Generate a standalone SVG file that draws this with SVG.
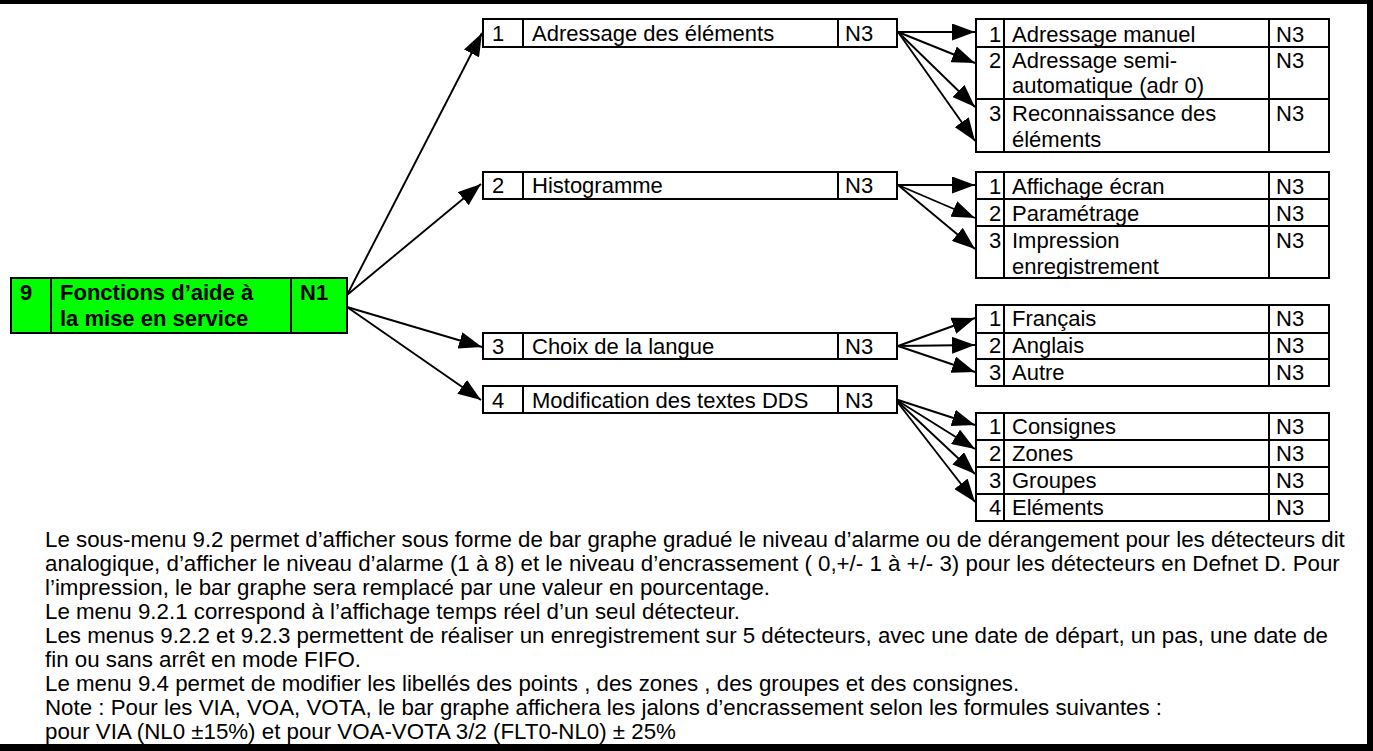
<svg xmlns="http://www.w3.org/2000/svg" width="1373" height="751" viewBox="0 0 1373 751">
<style>
.t{font-family:"Liberation Sans",Arial,sans-serif;font-size:22px;fill:#000}
.n{font-size:22.3px}
.b{font-weight:bold}
.bx{fill:#fff;stroke:#000;stroke-width:2}
.dv{stroke:#000;stroke-width:2}
.c{stroke:#000;stroke-width:1.9;fill:none;marker-end:url(#ah)}
.fr{fill:#000}
</style>
<defs>
<marker id="ah" markerUnits="userSpaceOnUse" markerWidth="23" markerHeight="17" refX="23" refY="8.5" orient="auto" viewBox="0 0 23 17">
<path d="M0,0 L23,8.5 L0,17 Z" fill="#000"/>
</marker>
</defs>
<rect width="1373" height="751" fill="#fff"/>
<g id="frame">
<rect class="fr" x="0" y="0" width="1373" height="4"/>
<rect class="fr" x="1367" y="0" width="6" height="751"/>
<rect class="fr" x="0" y="744" width="1373" height="7"/>
</g>
<g id="connectors">
<line class="c" x1="347" y1="295" x2="482" y2="33"/>
<line class="c" x1="347" y1="295" x2="481" y2="184"/>
<line class="c" x1="347" y1="307" x2="482" y2="347"/>
<line class="c" x1="347" y1="307" x2="481" y2="400"/>
<line class="c" x1="898" y1="32" x2="975" y2="32"/>
<line class="c" x1="898" y1="32" x2="975" y2="63"/>
<line class="c" x1="898" y1="32" x2="975" y2="107"/>
<line class="c" x1="898" y1="32" x2="975" y2="141"/>
<line class="c" x1="898" y1="185" x2="975" y2="185"/>
<line class="c" x1="898" y1="185" x2="975" y2="218"/>
<line class="c" x1="898" y1="185" x2="975" y2="249"/>
<line class="c" x1="898" y1="346" x2="975" y2="318"/>
<line class="c" x1="898" y1="346" x2="975" y2="345"/>
<line class="c" x1="898" y1="346" x2="975" y2="372"/>
<line class="c" x1="895" y1="399" x2="975" y2="425"/>
<line class="c" x1="895" y1="399" x2="975" y2="449"/>
<line class="c" x1="895" y1="399" x2="975" y2="474"/>
<line class="c" x1="895" y1="399" x2="975" y2="502"/>
</g>
<g id="n9">
<rect x="11" y="278" width="336" height="55" fill="#00FF00" stroke="#000" stroke-width="2"/>
<line class="dv" x1="51" y1="278" x2="51" y2="333"/>
<line class="dv" x1="291" y1="278" x2="291" y2="333"/>
<text class="t b" x="20" y="300">9</text>
<text class="t b" x="60" y="300">Fonctions d’aide à</text>
<text class="t b" x="60" y="326">la mise en service</text>
<text class="t b" x="300" y="300">N1</text>
</g>
<g id="n9-1">
<rect class="bx" x="483" y="19" width="414" height="28"/>
<line class="dv" x1="523" y1="19" x2="523" y2="47"/>
<line class="dv" x1="838" y1="19" x2="838" y2="47"/>
<text class="t" x="492" y="41">1</text>
<text class="t" x="532" y="41">Adressage des éléments</text>
<text class="t" x="845" y="41">N3</text>
</g>
<g id="n9-2">
<rect class="bx" x="483" y="172" width="414" height="27"/>
<line class="dv" x1="523" y1="172" x2="523" y2="199"/>
<line class="dv" x1="838" y1="172" x2="838" y2="199"/>
<text class="t" x="492" y="193">2</text>
<text class="t" x="532" y="193">Histogramme</text>
<text class="t" x="845" y="193">N3</text>
</g>
<g id="n9-3">
<rect class="bx" x="483" y="333" width="414" height="26"/>
<line class="dv" x1="523" y1="333" x2="523" y2="359"/>
<line class="dv" x1="838" y1="333" x2="838" y2="359"/>
<text class="t" x="492" y="354">3</text>
<text class="t" x="532" y="354">Choix de la langue</text>
<text class="t" x="845" y="354">N3</text>
</g>
<g id="n9-4">
<rect class="bx" x="483" y="386" width="414" height="27"/>
<line class="dv" x1="523" y1="386" x2="523" y2="413"/>
<line class="dv" x1="838" y1="386" x2="838" y2="413"/>
<text class="t" x="492" y="408">4</text>
<text class="t" x="532" y="408">Modification des textes DDS</text>
<text class="t" x="845" y="408">N3</text>
</g>
<g id="n9-1-1">
<rect class="bx" x="976" y="19" width="353" height="28"/>
<line class="dv" x1="1004" y1="19" x2="1004" y2="47"/>
<line class="dv" x1="1269" y1="19" x2="1269" y2="47"/>
<text class="t" x="989" y="42">1</text>
<text class="t" x="1012" y="42">Adressage manuel</text>
<text class="t" x="1276" y="42">N3</text>
</g>
<g id="n9-1-2">
<rect class="bx" x="976" y="47" width="353" height="52"/>
<line class="dv" x1="1004" y1="47" x2="1004" y2="99"/>
<line class="dv" x1="1269" y1="47" x2="1269" y2="99"/>
<text class="t" x="989" y="68">2</text>
<text class="t" x="1012" y="68">Adressage semi-</text>
<text class="t" x="1012" y="93">automatique (adr 0)</text>
<text class="t" x="1276" y="68">N3</text>
</g>
<g id="n9-1-3">
<rect class="bx" x="976" y="99" width="353" height="53"/>
<line class="dv" x1="1004" y1="99" x2="1004" y2="152"/>
<line class="dv" x1="1269" y1="99" x2="1269" y2="152"/>
<text class="t" x="989" y="121">3</text>
<text class="t" x="1012" y="121">Reconnaissance des</text>
<text class="t" x="1012" y="147">éléments</text>
<text class="t" x="1276" y="121">N3</text>
</g>
<g id="n9-2-1">
<rect class="bx" x="976" y="172" width="353" height="27"/>
<line class="dv" x1="1004" y1="172" x2="1004" y2="199"/>
<line class="dv" x1="1269" y1="172" x2="1269" y2="199"/>
<text class="t" x="989" y="194">1</text>
<text class="t" x="1012" y="194">Affichage écran</text>
<text class="t" x="1276" y="194">N3</text>
</g>
<g id="n9-2-2">
<rect class="bx" x="976" y="199" width="353" height="27"/>
<line class="dv" x1="1004" y1="199" x2="1004" y2="226"/>
<line class="dv" x1="1269" y1="199" x2="1269" y2="226"/>
<text class="t" x="989" y="221">2</text>
<text class="t" x="1012" y="221">Paramétrage</text>
<text class="t" x="1276" y="221">N3</text>
</g>
<g id="n9-2-3">
<rect class="bx" x="976" y="226" width="353" height="52"/>
<line class="dv" x1="1004" y1="226" x2="1004" y2="278"/>
<line class="dv" x1="1269" y1="226" x2="1269" y2="278"/>
<text class="t" x="989" y="248">3</text>
<text class="t" x="1012" y="248">Impression</text>
<text class="t" x="1012" y="274">enregistrement</text>
<text class="t" x="1276" y="248">N3</text>
</g>
<g id="n9-3-1">
<rect class="bx" x="976" y="305" width="353" height="28"/>
<line class="dv" x1="1004" y1="305" x2="1004" y2="333"/>
<line class="dv" x1="1269" y1="305" x2="1269" y2="333"/>
<text class="t" x="989" y="326">1</text>
<text class="t" x="1012" y="326">Français</text>
<text class="t" x="1276" y="326">N3</text>
</g>
<g id="n9-3-2">
<rect class="bx" x="976" y="333" width="353" height="26"/>
<line class="dv" x1="1004" y1="333" x2="1004" y2="359"/>
<line class="dv" x1="1269" y1="333" x2="1269" y2="359"/>
<text class="t" x="989" y="353">2</text>
<text class="t" x="1012" y="353">Anglais</text>
<text class="t" x="1276" y="353">N3</text>
</g>
<g id="n9-3-3">
<rect class="bx" x="976" y="359" width="353" height="27"/>
<line class="dv" x1="1004" y1="359" x2="1004" y2="386"/>
<line class="dv" x1="1269" y1="359" x2="1269" y2="386"/>
<text class="t" x="989" y="380">3</text>
<text class="t" x="1012" y="380">Autre</text>
<text class="t" x="1276" y="380">N3</text>
</g>
<g id="n9-4-1">
<rect class="bx" x="976" y="413" width="353" height="27"/>
<line class="dv" x1="1004" y1="413" x2="1004" y2="440"/>
<line class="dv" x1="1269" y1="413" x2="1269" y2="440"/>
<text class="t" x="989" y="434">1</text>
<text class="t" x="1012" y="434">Consignes</text>
<text class="t" x="1276" y="434">N3</text>
</g>
<g id="n9-4-2">
<rect class="bx" x="976" y="440" width="353" height="27"/>
<line class="dv" x1="1004" y1="440" x2="1004" y2="467"/>
<line class="dv" x1="1269" y1="440" x2="1269" y2="467"/>
<text class="t" x="989" y="461">2</text>
<text class="t" x="1012" y="461">Zones</text>
<text class="t" x="1276" y="461">N3</text>
</g>
<g id="n9-4-3">
<rect class="bx" x="976" y="467" width="353" height="27"/>
<line class="dv" x1="1004" y1="467" x2="1004" y2="494"/>
<line class="dv" x1="1269" y1="467" x2="1269" y2="494"/>
<text class="t" x="989" y="488">3</text>
<text class="t" x="1012" y="488">Groupes</text>
<text class="t" x="1276" y="488">N3</text>
</g>
<g id="n9-4-4">
<rect class="bx" x="976" y="494" width="353" height="27"/>
<line class="dv" x1="1004" y1="494" x2="1004" y2="521"/>
<line class="dv" x1="1269" y1="494" x2="1269" y2="521"/>
<text class="t" x="989" y="515">4</text>
<text class="t" x="1012" y="515">Eléments</text>
<text class="t" x="1276" y="515">N3</text>
</g>
<g id="notes">
<text class="t n" x="45" y="547">Le sous-menu 9.2 permet d’afficher sous forme de bar graphe gradué le niveau d’alarme ou de dérangement pour les détecteurs dit</text>
<text class="t n" x="45" y="571">analogique, d’afficher le niveau d’alarme (1 à 8) et le niveau d’encrassement ( 0,+/- 1 à +/- 3) pour les détecteurs en Defnet D. Pour</text>
<text class="t n" x="45" y="595">l’impression, le bar graphe sera remplacé par une valeur en pourcentage.</text>
<text class="t n" x="45" y="619">Le menu 9.2.1 correspond à l’affichage temps réel d’un seul détecteur.</text>
<text class="t n" x="45" y="643">Les menus 9.2.2 et 9.2.3 permettent de réaliser un enregistrement sur 5 détecteurs, avec une date de départ, un pas, une date de</text>
<text class="t n" x="45" y="667">fin ou sans arrêt en mode FIFO.</text>
<text class="t n" x="45" y="691">Le menu 9.4 permet de modifier les libellés des points , des zones , des groupes et des consignes.</text>
<text class="t n" x="45" y="715">Note : Pour les VIA, VOA, VOTA, le bar graphe affichera les jalons d’encrassement selon les formules suivantes :</text>
<text class="t n" x="45" y="739">pour VIA (NL0 ±15%) et pour VOA-VOTA 3/2 (FLT0-NL0) ± 25%</text>
</g>
</svg>
